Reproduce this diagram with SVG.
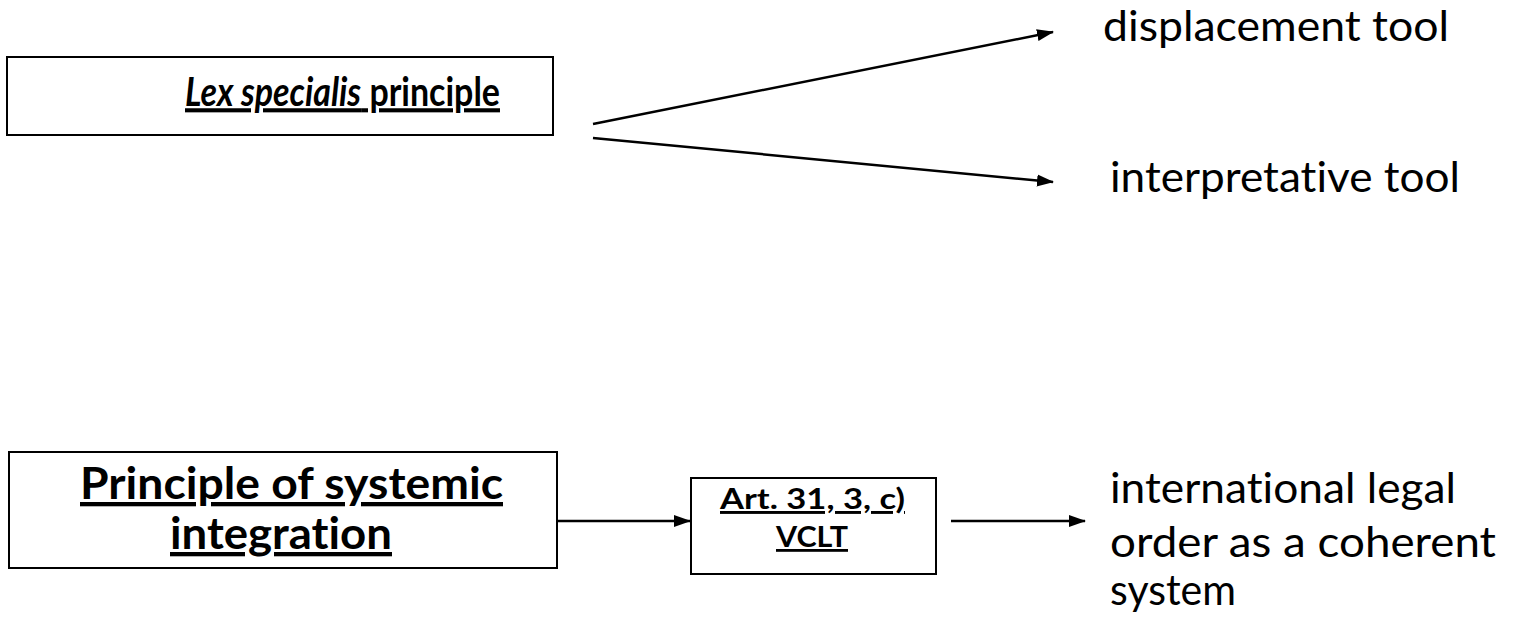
<svg xmlns="http://www.w3.org/2000/svg" width="1513" height="621" viewBox="0 0 1513 621">
<style>
.box{fill:#fff;stroke:#000;stroke-width:2}
.t{font-family:Lato,"Liberation Sans",sans-serif;fill:#000;font-variant-ligatures:none}
.b{font-weight:bold;text-decoration:underline}
.c{stroke:#000;stroke-width:2.5;fill:none;marker-end:url(#ah)}
</style>
<defs>
<marker id="ah" markerWidth="17" markerHeight="14" refX="16" refY="7" orient="auto" markerUnits="userSpaceOnUse" viewBox="0 0 17 14">
<path d="M0,1 L17,7 L0,13 Z" fill="#000"/>
</marker>
</defs>
<rect width="1513" height="621" fill="#fff"/>
<g id="n-lex">
<rect class="box" x="7" y="57" width="546" height="78"/>
<text class="t b" transform="translate(185,106) scale(1,1.32)" x="0" y="0" font-size="31" textLength="315" lengthAdjust="spacingAndGlyphs"><tspan font-style="italic">Lex specialis</tspan> principle</text>
</g>
<g id="n-displacement">
<text class="t" x="1103" y="41" font-size="43" textLength="346" lengthAdjust="spacingAndGlyphs">displacement tool</text>
</g>
<g id="n-interpretative">
<text class="t" x="1110" y="192" font-size="43" textLength="350" lengthAdjust="spacingAndGlyphs">interpretative tool</text>
</g>
<g id="n-systemic">
<rect class="box" x="9" y="452" width="548" height="116"/>
<text class="t b" x="80" y="499" font-size="43" textLength="423" lengthAdjust="spacingAndGlyphs">Principle of systemic</text>
<text class="t b" x="170" y="549" font-size="43" textLength="222" lengthAdjust="spacingAndGlyphs">integration</text>
</g>
<g id="n-vclt">
<rect class="box" x="691" y="478" width="245" height="96"/>
<text class="t b" x="720" y="509" font-size="29" textLength="185" lengthAdjust="spacingAndGlyphs">Art. 31, 3, c)</text>
<text class="t b" x="776" y="547" font-size="28" textLength="72" lengthAdjust="spacingAndGlyphs">VCLT</text>
</g>
<g id="n-order">
<text class="t" x="1110" y="503" font-size="43" textLength="346" lengthAdjust="spacingAndGlyphs">international legal</text>
<text class="t" x="1110" y="557" font-size="43" textLength="386" lengthAdjust="spacingAndGlyphs">order as a coherent</text>
<text class="t" x="1110" y="605" font-size="43" textLength="126" lengthAdjust="spacingAndGlyphs">system</text>
</g>
<g id="connectors">
<line class="c" x1="593" y1="124" x2="1053" y2="32"/>
<line class="c" x1="593" y1="138" x2="1053" y2="182"/>
<line class="c" x1="557" y1="521" x2="690" y2="521"/>
<line class="c" x1="951" y1="521" x2="1085" y2="521"/>
</g>
</svg>
